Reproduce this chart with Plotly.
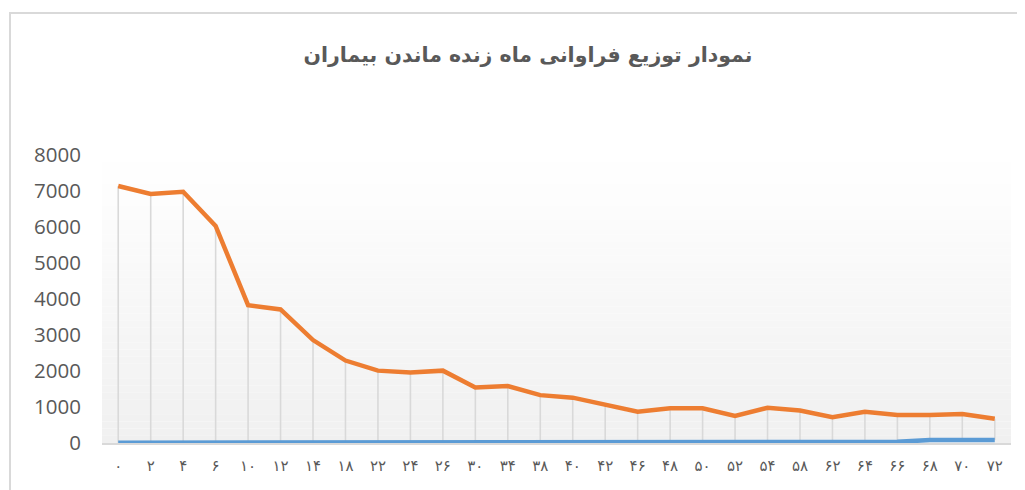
import plotly.graph_objects as go

# ---- data ----
months = ["۰", "۲", "۴", "۶", "۱۰", "۱۲", "۱۴", "۱۸", "۲۲", "۲۴", "۲۶", "۳۰", "۳۴", "۳۸",
          "۴۰", "۴۲", "۴۶", "۴۸", "۵۰", "۵۲", "۵۴", "۵۸", "۶۲", "۶۴", "۶۶", "۶۸", "۷۰", "۷۲"]
orange_vals = [7140, 6920, 6980, 6030, 3830, 3710, 2860, 2290, 2010, 1960, 2010, 1540, 1580, 1330,
               1260, 1055, 870, 965, 965, 750, 980, 900, 715, 870, 780, 780, 805, 675]
blue_vals = [10, 10, 10, 10, 10, 10, 10, 10, 10, 10, 10, 10, 35, 35,
             35, 35, 35, 35, 35, 35, 35, 35, 35, 35, 35, 80, 80, 80]
y_ticks = [0, 1000, 2000, 3000, 4000, 5000, 6000, 7000, 8000]
title_text = "نمودار توزیع فراوانی ماه زنده ماندن بیماران"

OFF = 8  # page body margin
W, H = 1025 - OFF, 490 - OFF
ml, mr, mt, mb = 102 - OFF, 14, 155 - OFF, 47

fig = go.Figure()

# drop lines (high-low lines) between the two series
dx, dy = [], []
for m, lo, hi in zip(months, blue_vals, orange_vals):
    dx += [m, m, None]
    dy += [lo, hi, None]
fig.add_trace(go.Scatter(x=dx, y=dy, mode="lines", line=dict(color="#d9d9d9", width=1.6),
                         hoverinfo="skip", showlegend=False))

fig.add_trace(go.Scatter(x=months, y=blue_vals, mode="lines",
                         line=dict(color="#5b9bd5", width=4.5), showlegend=False))
fig.add_trace(go.Scatter(x=months, y=orange_vals, mode="lines",
                         line=dict(color="#ed7d31", width=4.5), showlegend=False))

# plot-area gradient background (white at top to light gray at bottom)
shapes = []
n = 40
for i in range(n):
    t = (i + 0.5) / n
    c = int(round(255 - (255 - 240) * t))
    shapes.append(dict(type="rect", xref="x domain", yref="y domain",
                       x0=0, x1=1, y0=1 - (i + 1) / n, y1=1 - i / n,
                       fillcolor=f"rgb({c},{c},{c})", line=dict(width=0), layer="below"))
# chart border
pw, ph = W - ml - mr, H - mt - mb
shapes.append(dict(type="rect", xref="paper", yref="paper",
                   x0=(10 - OFF - ml) / pw, x1=1.2,
                   y0=-0.5, y1=1 + (mt - (13 - OFF)) / ph,
                   line=dict(color="#d9d9d9", width=2), fillcolor="rgba(0,0,0,0)", layer="below"))

fig.update_layout(
    width=W, height=H,
    margin=dict(l=ml, r=mr, t=mt, b=mb, pad=0),
    paper_bgcolor="white", plot_bgcolor="rgba(0,0,0,0)",
    shapes=shapes,
    title=dict(text=title_text, x=(528 - OFF) / W, xanchor="center", y=1 - (55 - OFF) / H,
               yanchor="middle",
               font=dict(family="DejaVu Sans", size=20.5, color="#595959", weight="bold")),
    xaxis=dict(type="category", range=[-0.5, len(months) - 0.5], showgrid=False,
               showline=True, linecolor="#d9d9d9", linewidth=1.5, ticks="",
               tickfont=dict(family="DejaVu Sans", size=15, color="#595959"),
               ticklabelstandoff=8, fixedrange=True),
    yaxis=dict(range=[0, 8000], tickvals=y_ticks, showgrid=False, zeroline=False,
               showline=False, ticks="",
               tickfont=dict(family="Open Sans", size=20.5, color="#595959"),
               ticklabelstandoff=20, fixedrange=True),
)

fig.write_html("out.html")
